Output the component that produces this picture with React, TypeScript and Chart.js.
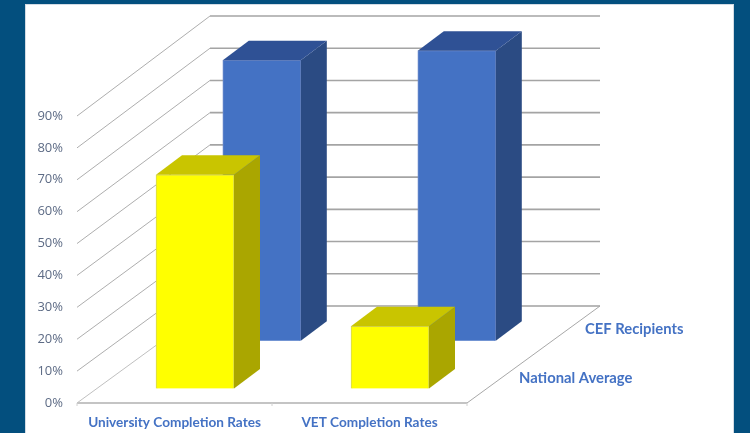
import React, { useEffect, useRef } from "react";
import { Chart, registerables } from "chart.js";

Chart.register(...registerables);

const categories = ["University Completion Rates", "VET Completion Rates"];
const depthLabels = ["National Average", "CEF Recipients"];
const nationalAverage = [67, 19.5];
const cefRecipients = [87, 90];
const axisMax = 90;
const axisStep = 10;

// 3D projection of the chart's depth axis
const WALL = { dx: 133, dy: -97 };
const ROW = [
  { dx: 20.5, dy: -14.6 },
  { dx: 87.3, dy: -62.3 },
];
const BOX = { dx: 26, dy: -19.5 };
const FACES = [
  { front: "#ffff00", top: "#c9c500", side: "#aaa600", edge: "#d4d45a" },
  { front: "#4472c4", top: "#2f5195", side: "#2b4b83", edge: "#6f8ccb" },
];

const poly = (ctx: CanvasRenderingContext2D, pts: number[][], fill: string) => {
  ctx.beginPath();
  pts.forEach(([x, y], i) => (i ? ctx.lineTo(x, y) : ctx.moveTo(x, y)));
  ctx.closePath();
  ctx.fillStyle = fill;
  ctx.fill();
};

const line = (
  ctx: CanvasRenderingContext2D,
  a: number[],
  b: number[],
  color: string,
  width: number
) => {
  ctx.beginPath();
  ctx.moveTo(a[0], a[1]);
  ctx.lineTo(b[0], b[1]);
  ctx.strokeStyle = color;
  ctx.lineWidth = width;
  ctx.stroke();
};

const scene = {
  id: "scene",
  beforeDraw(chart: any) {
    const { ctx, width, height } = chart;
    ctx.save();
    ctx.fillStyle = "#034f7e";
    ctx.fillRect(0, 0, width, height);
    ctx.fillStyle = "#d3dbe4";
    ctx.fillRect(25, 4, 709, height - 4);
    ctx.fillStyle = "#ffffff";
    ctx.fillRect(26, 5, 707, height - 5);
    ctx.restore();
  },
  beforeDatasetsDraw(chart: any) {
    const { ctx, chartArea: a, scales } = chart;
    const y = scales.y;
    const yb = scales.yBack;
    ctx.save();
    for (let v = axisMax; v >= 0; v -= axisStep) {
      const fy = y.getPixelForValue(v);
      const by = yb.getPixelForValue(v) + WALL.dy;
      const c = v === 0 ? "#c0c0c0" : "#aeaeae";
      line(ctx, [a.left, fy], [a.left + WALL.dx, by], c, 1);
      if (v > 0) line(ctx, [a.left + WALL.dx, by], [a.right + WALL.dx, by], "#a4a4a4", 1.6);
    }
    const base = y.getPixelForValue(0);
    line(ctx, [a.left + WALL.dx, base + WALL.dy], [a.right + WALL.dx, base + WALL.dy], "#a0a0a0", 1.3);
    line(ctx, [a.right, base], [a.right + WALL.dx, base + WALL.dy], "#a8a8a8", 1);
    line(ctx, [a.left, base], [a.right, base], "#c4c4c4", 1.8);
    [a.left, (a.left + a.right) / 2, a.right].forEach((x) =>
      line(ctx, [x, base], [x, base + 3], "#d0d0d0", 1)
    );
    ctx.font = "bold 14.8px Lato";
    ctx.fillStyle = "#4472c4";
    ctx.textBaseline = "middle";
    ctx.textAlign = "left";
    ctx.fillText(depthLabels[1], 585, 329);
    ctx.fillText(depthLabels[0], 519, 378);
    ctx.restore();
  },
  beforeDatasetDraw(chart: any, args: any) {
    const { ctx } = chart;
    const row = ROW[args.index];
    ctx.save();
    ctx.translate(row.dx, row.dy);
  },
  afterDatasetDraw(chart: any, args: any) {
    const { ctx } = chart;
    const face = FACES[args.index];
    args.meta.data.forEach((bar: any) => {
      const l = bar.x - bar.width / 2;
      const r = bar.x + bar.width / 2;
      const t = bar.y;
      const b = bar.base;
      poly(ctx, [[r, t], [r + BOX.dx, t + BOX.dy], [r + BOX.dx, b + BOX.dy], [r, b]], face.side);
      poly(ctx, [[l, t], [l + BOX.dx, t + BOX.dy], [r + BOX.dx, t + BOX.dy], [r, t]], face.top);
    });
    ctx.restore();
  },
};

export default function App() {
  const ref = useRef<HTMLCanvasElement>(null);

  useEffect(() => {
    document.body.style.margin = "0";
    const chart = new Chart(ref.current!, {
      type: "bar",
      plugins: [scene],
      data: {
        labels: categories,
        datasets: [
          {
            label: depthLabels[0],
            data: nationalAverage,
            yAxisID: "y",
            backgroundColor: FACES[0].front,
            borderColor: FACES[0].edge,
            borderWidth: 1,
            barThickness: 78,
            grouped: false,
            clip: false,
          },
          {
            label: depthLabels[1],
            data: cefRecipients,
            yAxisID: "yBack",
            backgroundColor: FACES[1].front,
            borderColor: FACES[1].edge,
            borderWidth: 1,
            barThickness: 78,
            grouped: false,
            clip: false,
          },
        ] as any,
      },
      options: {
        responsive: false,
        animation: false,
        events: [],
        layout: { padding: { left: 27, right: 283, top: 116, bottom: 0 } },
        plugins: { legend: { display: false }, tooltip: { enabled: false }, title: { display: false } },
        scales: {
          x: {
            grid: { display: false },
            border: { display: false },
            afterFit: (s: any) => {
              s.height = 30;
            },
            ticks: {
              color: "#4472c4",
              font: { family: "Lato", size: 13.6, weight: "bold" },
              padding: 3,
              autoSkip: false,
              maxRotation: 0,
            },
          },
          y: {
            min: 0,
            max: axisMax,
            grid: { display: false },
            border: { display: false },
            afterFit: (s: any) => {
              s.width = 50;
            },
            ticks: {
              stepSize: axisStep,
              color: "#5d6b85",
              font: { family: "Open Sans", size: 13 },
              padding: 6,
              callback: (v: any) => v + "%",
            },
          },
          yBack: { display: false, min: 0, max: 89.07 },
        },
      } as any,
    });
    return () => chart.destroy();
  }, []);

  return <canvas ref={ref} width={750} height={433} style={{ display: "block" }} />;
}
